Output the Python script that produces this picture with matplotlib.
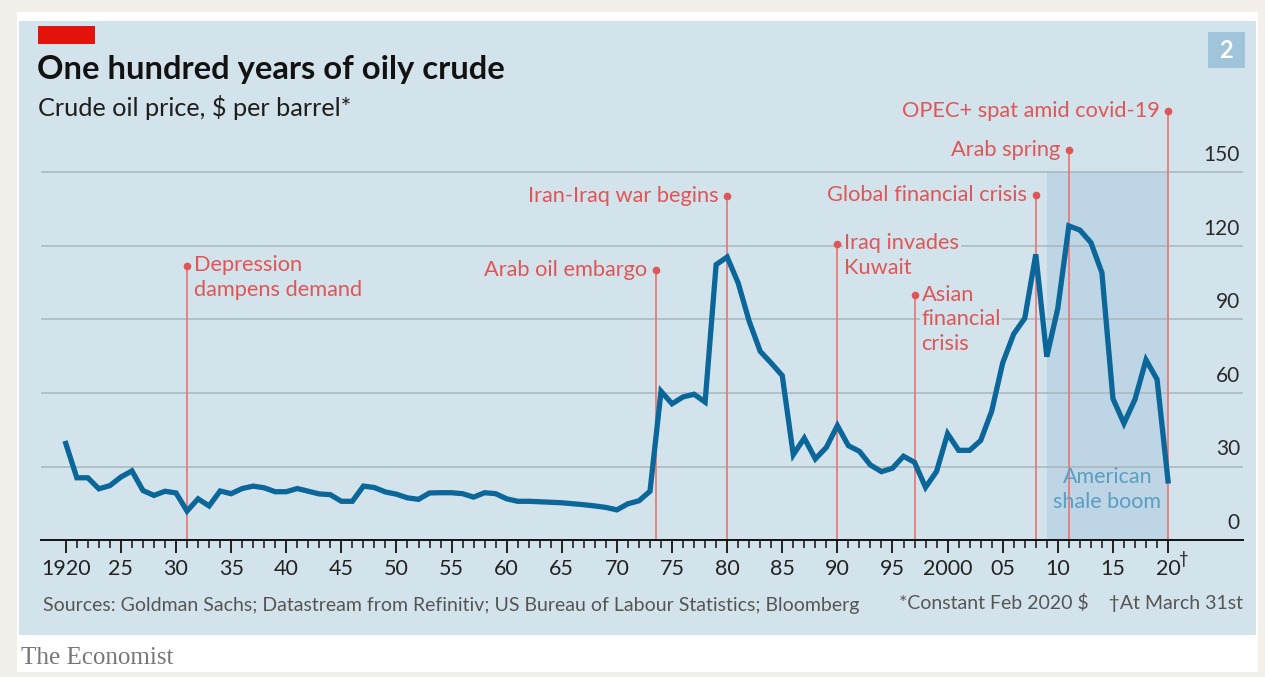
import matplotlib
matplotlib.use("Agg")
import matplotlib.pyplot as plt
from matplotlib.patches import Rectangle
import matplotlib.transforms as mtransforms

plt.rcParams['font.family'] = ['Lato', 'DejaVu Sans']

# ### data (constant Feb 2020 $ per barrel)
years = list(range(1920, 2021))
price = [
    39.4, 25.4, 25.4, 20.9, 22.2, 25.7, 28.2, 20.2, 18.2, 19.9,   # 1920s
    19.2, 11.8, 16.8, 13.9, 20.0, 18.9, 21.0, 22.0, 21.3, 19.7,   # 1930s
    19.7, 21.0, 19.9, 18.8, 18.5, 15.8, 15.8, 22.0, 21.4, 19.6,   # 1940s
    18.7, 17.2, 16.6, 19.2, 19.3, 19.3, 18.9, 17.5, 19.3, 18.9,   # 1950s
    16.8, 15.8, 15.8, 15.6, 15.4, 15.2, 14.8, 14.4, 13.9, 13.3,   # 1960s
    12.3, 14.8, 16.0, 19.9, 60.7, 55.6, 58.4, 59.5, 56.3, 112.4,  # 1970s
    115.5, 104.9, 89.3, 77.0, 72.2, 67.1, 34.8, 41.6, 33.1, 37.8, # 1980s
    46.7, 38.5, 36.2, 30.6, 27.9, 29.3, 34.2, 31.7, 21.5, 28.0,   # 1990s
    43.4, 36.6, 36.6, 40.6, 52.6, 72.3, 84.1, 90.5, 116.6, 74.8,  # 2000s
    94.6, 128.2, 126.5, 121.4, 109.1, 57.7, 47.6, 57.4, 73.5, 65.6,  # 2010s
    24.1,                                                         # 2020 (March 31st)
]

grid_vals = [0, 30, 60, 90, 120, 150]
major_ticks = list(range(1920, 2021, 5))
major_labels = ["1920", "25", "30", "35", "40", "45", "50", "55", "60", "65", "70",
                "75", "80", "85", "90", "95", "2000", "05", "10", "15", "20"]

# events: (year, height of the dot, label)
events_left = [
    (1973.5, 110, "Arab oil embargo"),
    (1980, 140.5, "Iran-Iraq war begins"),
    (2008, 141, "Global financial crisis"),
    (2011, 159, "Arab spring"),
    (2020, 175, "OPEC+ spat amid covid-19"),
]
events_right = [
    (1931, 112, "Depression\ndampens demand"),
    (1990, 121, "Iraq invades\nKuwait"),
    (1997, 100, "Asian\nfinancial\ncrisis"),
]
shale_span = (2009, 2020)

# ### colours
BG = "#d3e3ec"
LINE = "#0b6699"
RED = "#e05555"
RED_LINE = "#e67a78"
SHADE = "#bdd5e4"
GRID = "#a9b6bd"

W, H = 1265, 677
fig = plt.figure(figsize=(W / 100, H / 100), dpi=100, facecolor="#f3f0eb")


def fx(x):
    return x / W


def fy(y):
    return 1 - y / H


# white card and the blue panel
fig.patches.append(Rectangle((fx(17), fy(672)), fx(1258 - 17), (672 - 12) / H,
                             transform=fig.transFigure, facecolor="white", edgecolor="none", zorder=-3))
fig.patches.append(Rectangle((fx(19), fy(635)), fx(1256 - 19), (635 - 21) / H,
                             transform=fig.transFigure, facecolor=BG, edgecolor="none", zorder=-2))
# red tag, top left
fig.patches.append(Rectangle((fx(38), fy(44)), fx(57), 18 / H,
                             transform=fig.transFigure, facecolor="#e3120b", edgecolor="none", zorder=-1))
# chart number badge
fig.patches.append(Rectangle((fx(1208), fy(68)), fx(37), 36 / H,
                             transform=fig.transFigure, facecolor="#a0c4da", edgecolor="none", zorder=-1))
fig.text(fx(1226.5), fy(50), "2", color="white", fontsize=17, fontweight="bold",
         ha="center", va="center")

fig.text(fx(37), fy(69), "One hundred years of oily crude", fontsize=23.6, fontweight="bold",
         color="#121212", va="center", ha="left")
fig.text(fx(38), fy(108), "Crude oil price, $ per barrel*", fontsize=18.2,
         color="#1e1e1e", va="center", ha="left")

# ### main axes
ax_left, ax_right = 41, 1243
ax_bottom, ax_top = 540, 99
ax = fig.add_axes([fx(ax_left), fy(ax_bottom), fx(ax_right - ax_left), (ax_bottom - ax_top) / H])
ax.set_zorder(2)
ax.set_facecolor("none")
ax.set_xlim(1917.75, 2026.8)
ax.set_ylim(0, 180)

for s in ["top", "left", "right"]:
    ax.spines[s].set_visible(False)
ax.spines["bottom"].set_color("#111111")
ax.spines["bottom"].set_linewidth(1.4)
ax.spines["bottom"].set_zorder(6)

ax.set_yticks(grid_vals)
ax.tick_params(axis="y", length=0, labelleft=False)
for v in grid_vals[1:]:
    ax.axhline(v, color=GRID, lw=1.1, zorder=1)
blend = mtransforms.blended_transform_factory(ax.transAxes, ax.transData)
for v in grid_vals:
    ax.text(0.9975, v + 3, str(v), transform=blend, ha="right", va="bottom",
            fontsize=15, color="#2a2a2a")

ax.set_xticks(major_ticks)
ax.set_xticklabels(major_labels, fontsize=15.5, color="#222222")
ax.set_xticks(range(1920, 2021), minor=True)
ax.tick_params(axis="x", which="major", direction="out", length=9, width=1.3, color="#111111", pad=5)
ax.tick_params(axis="x", which="minor", direction="out", length=5.5, width=1.1, color="#111111")
ax.annotate("†", xy=(2020, 0), xycoords=("data", "axes fraction"), xytext=(8, -14),
            textcoords="offset points", fontsize=12, color="#222222", ha="left", va="center",
            annotation_clip=False)

# shale boom shading
ax.fill_between(shale_span, 0, 150, color=SHADE, lw=0, zorder=0.5)
ax.text(sum(shale_span) / 2, 20.5, "American\nshale boom", ha="center", va="center",
        fontsize=15.5, color="#5b9ec3", linespacing=1.3, zorder=3)

# event markers
for x, top, label in events_left + events_right:
    ax.plot([x, x], [0, top], color=RED_LINE, lw=1.3, zorder=2)
    ax.plot([x], [top], "o", color=RED, ms=4.5, zorder=2)
for x, top, label in events_left:
    ax.annotate(label, xy=(x, top), xytext=(-6, 0), textcoords="offset points",
                ha="right", va="center", fontsize=15.7, color=RED, zorder=4,
                bbox=dict(facecolor=BG, edgecolor="none", pad=1))
for x, top, label in events_right:
    ax.annotate(label, xy=(x, top), xytext=(5, 7.5), textcoords="offset points",
                ha="left", va="top", fontsize=15.7, color=RED, zorder=4, linespacing=1.3,
                bbox=dict(facecolor=BG, edgecolor="none", pad=1))

ax.plot(years, price, color=LINE, lw=3.8, solid_joinstyle="miter", zorder=5)

# footer
fig.text(fx(43), fy(605), "Sources: Goldman Sachs; Datastream from Refinitiv; "
         "US Bureau of Labour Statistics; Bloomberg", fontsize=14, color="#555555",
         ha="left", va="center")
fig.text(fx(1243), fy(603), "*Constant Feb 2020 $    †At March 31st", fontsize=14,
         color="#555555", ha="right", va="center")
fig.text(fx(21), fy(658), "The Economist", fontsize=18, color="#777777",
         family="Liberation Serif", ha="left", va="center")

fig.savefig("out.png", dpi=100, facecolor=fig.get_facecolor())
